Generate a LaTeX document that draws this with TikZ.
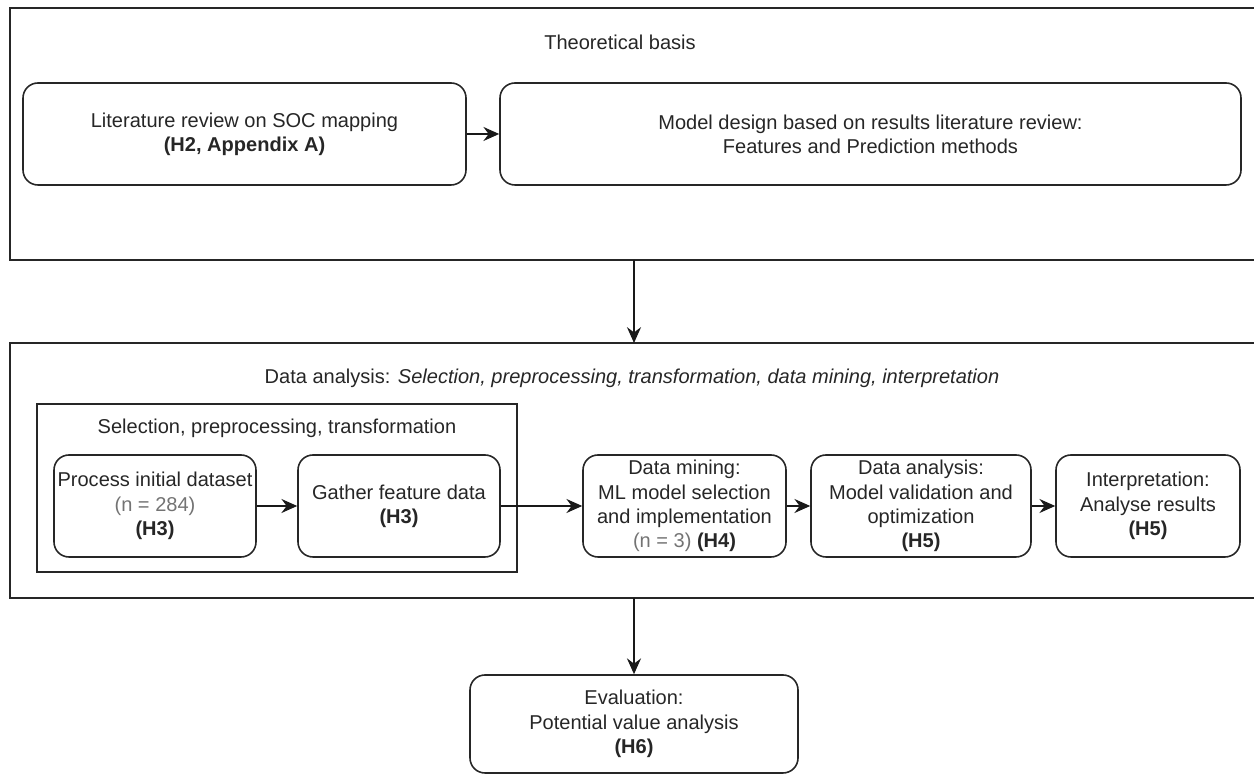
\documentclass[tikz,border=0pt]{standalone}
\usepackage{fontspec}
\setmainfont{Liberation Sans}
\usetikzlibrary{arrows.meta}

\begin{document}
\begin{tikzpicture}[>={Stealth[length=9pt,width=8pt,inset=3pt]},
        every node/.style={font=\fontsize{11.4}{13.8}\selectfont, text=black!85},
        stepbox/.style={draw=black!85, line width=0.9pt, rounded corners=0.3cm, align=center, inner sep=1pt},
        frame/.style={draw=black!85, line width=0.9pt},
        flow/.style={->, line width=0.9pt, black!90}]
        \useasboundingbox (0,0) rectangle (25.08,15.48);

        % Theoretical basis
        \draw[frame] (25.08,15.32) -- (0.2,15.32) -- (0.2,10.28) -- (25.08,10.28);
        \node (theory) at (12.4,14.64) {Theoretical basis};
        \node[stepbox, minimum width=8.86cm, minimum height=2.04cm] (lit) at (4.89,12.8) {Literature review on SOC mapping\\ \textbf{(H2, Appendix A)}};
        \node[stepbox, minimum width=14.82cm, minimum height=2.04cm] (design) at (17.41,12.8) {Model design based on results literature review:\\ Features and Prediction methods};
        \draw[flow] (lit) -- (design);

        % Data analysis
        \coordinate (theoryOut) at (12.68,10.28);
        \coordinate (analysisIn) at (12.68,8.62);
        \coordinate (analysisOut) at (12.68,3.52);
        \draw[frame] (25.08,8.62) -- (0.2,8.62) -- (0.2,3.52) -- (25.08,3.52);
        \draw[flow] (theoryOut) -- (analysisIn);
        \node (analysis) at (12.64,7.92) {Data analysis: \textit{Selection, preprocessing, transformation, data mining, interpretation}};

        % Selection, preprocessing, transformation
        \node[frame, minimum width=9.6cm, minimum height=3.36cm] (prep) at (5.54,5.72) {};
        \node (preptitle) at (5.54,6.92) {Selection, preprocessing, transformation};
        \node[stepbox, minimum width=4.04cm, minimum height=2.04cm] (process) at (3.1,5.36) {Process initial dataset\\ {\color{black!55}(n = 284)}\\ \textbf{(H3)}};
        \node[stepbox, minimum width=4.04cm, minimum height=2.04cm] (gather) at (7.98,5.36) {Gather feature data\\ \textbf{(H3)}};

        % Mining, validation, interpretation
        \node[stepbox, minimum width=4.06cm, minimum height=2.04cm] (mining) at (13.69,5.36) {Data mining:\\ ML model selection\\ and implementation\\ {\color{black!55}(n = 3)} \textbf{(H4)}};
        \node[stepbox, minimum width=4.4cm, minimum height=2.04cm] (validation) at (18.42,5.36) {Data analysis:\\ Model validation and\\ optimization\\ \textbf{(H5)}};
        \node[stepbox, minimum width=3.68cm, minimum height=2.04cm] (interp) at (22.96,5.36) {Interpretation:\\ Analyse results\\ \textbf{(H5)}};

        \draw[flow] (process) -- (gather);
        \draw[flow] (gather) -- (mining);
        \draw[flow] (mining) -- (validation);
        \draw[flow] (validation) -- (interp);

        % Evaluation
        \node[stepbox, minimum width=6.56cm, minimum height=1.96cm] (evaluation) at (12.68,1.0) {Evaluation:\\ Potential value analysis\\ \textbf{(H6)}};
        \draw[flow] (analysisOut) -- (evaluation);
    \end{tikzpicture}
\end{document}
